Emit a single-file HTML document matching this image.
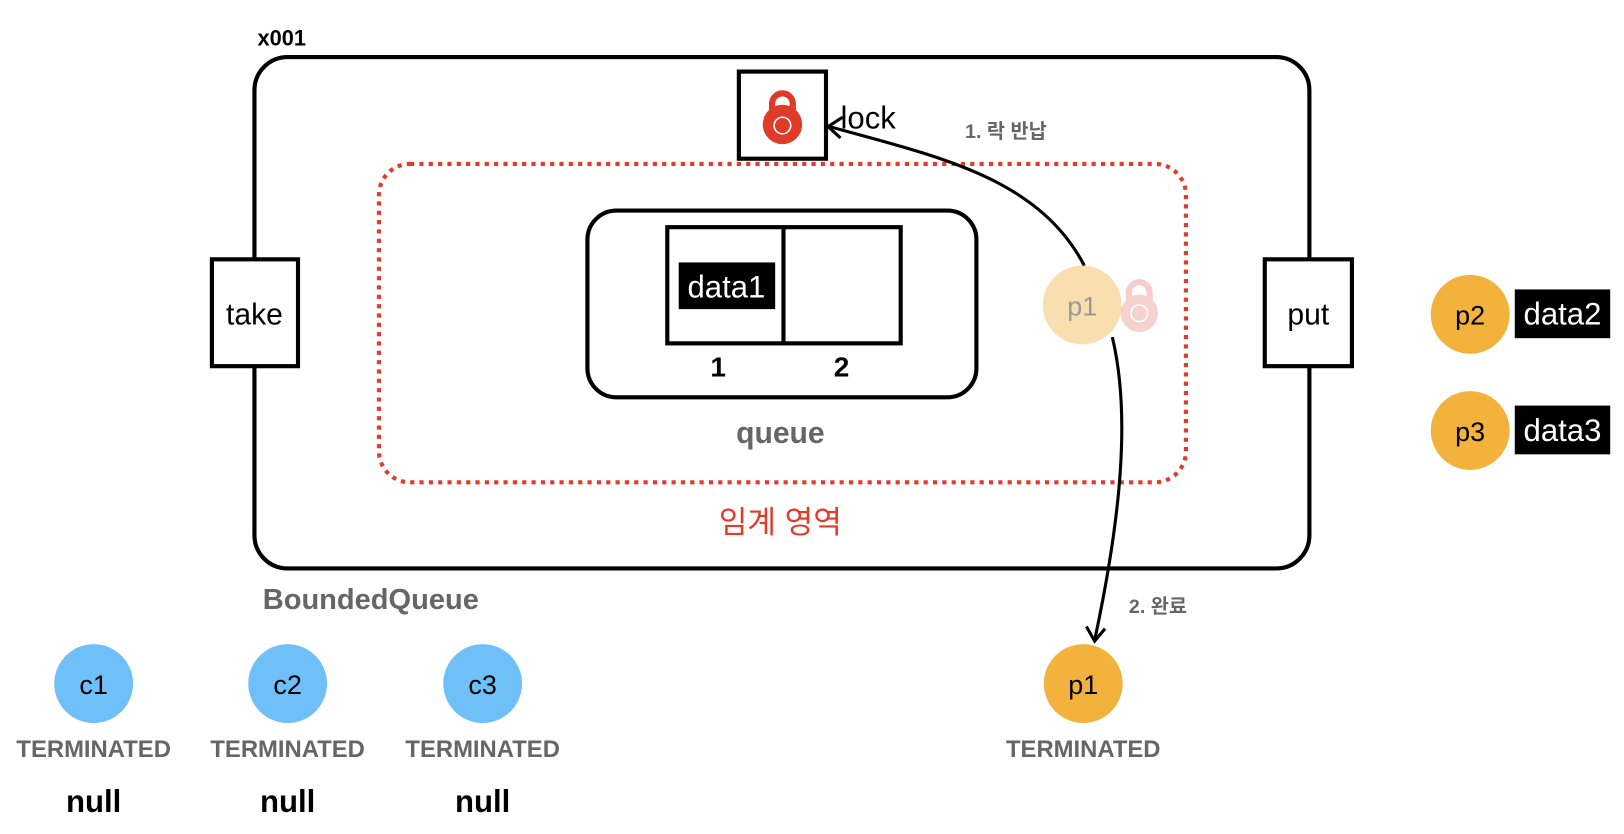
<!DOCTYPE html>
<html><head><meta charset="utf-8"><style>html,body{margin:0;padding:0;background:#fff}svg{display:block}</style></head>
<body>
<svg width="1624" height="834" viewBox="0 0 1565 804" xmlns="http://www.w3.org/2000/svg" font-family="'Liberation Sans','Noto Sans CJK KR',sans-serif">
<text x="248" y="44" font-size="21" font-weight="bold">x001</text>
<rect x="245" y="55" width="1017" height="493" rx="32" fill="none" stroke="#000" stroke-width="4"/>
<rect x="365" y="158" width="778" height="307" rx="30" fill="none" stroke="#e53a2a" stroke-width="4" stroke-dasharray="4 5"/>
<rect x="566" y="203" width="375" height="180" rx="28" fill="none" stroke="#000" stroke-width="4"/>
<rect x="643" y="219" width="225" height="112" fill="none" stroke="#000" stroke-width="4"/>
<line x1="755" y1="219" x2="755" y2="331" stroke="#000" stroke-width="4"/>
<rect x="654" y="253" width="93" height="45" fill="#000"/>
<text x="700" y="287" font-size="30" fill="#fff" text-anchor="middle">data1</text>
<text x="692" y="363" font-size="27" font-weight="bold" text-anchor="middle">1</text>
<text x="811" y="363" font-size="27" font-weight="bold" text-anchor="middle">2</text>
<text x="752" y="427" font-size="29" font-weight="bold" fill="#666" text-anchor="middle">queue</text>
<text x="752" y="514" font-size="30" fill="#e53a2a" text-anchor="middle">임계 영역</text>
<rect x="204" y="250" width="83" height="103" fill="#fff" stroke="#000" stroke-width="4"/>
<text x="245" y="313" font-size="29" text-anchor="middle">take</text>
<rect x="1219" y="250" width="84" height="103" fill="#fff" stroke="#000" stroke-width="4"/>
<text x="1261" y="313" font-size="29" text-anchor="middle">put</text>
<text x="253" y="587" font-size="28" font-weight="bold" fill="#666">BoundedQueue</text>
<rect x="712" y="69" width="84" height="84" fill="#fff" stroke="#000" stroke-width="4"/>
<path d="M744 109 v-9 a10 10 0 0 1 20 0 v9" fill="none" stroke="#e03a28" stroke-width="6"/>
<circle cx="754" cy="120" r="19" fill="#e03a28"/>
<circle cx="754" cy="121" r="8" fill="none" stroke="#fff" stroke-width="1.5"/>
<text x="810" y="124" font-size="30">lock</text>
<text x="930" y="133" font-size="19" font-weight="bold" fill="#666">1. 락 반납</text>
<circle cx="1043" cy="294" r="38" fill="#f9deb0"/>
<text x="1043" y="304" font-size="26" fill="#999" text-anchor="middle">p1</text>
<path d="M1088 290 v-8 a10 10 0 0 1 20 0 v8" fill="none" stroke="#f5cfcb" stroke-width="6"/>
<circle cx="1098" cy="302" r="18" fill="#f5d2ce"/>
<circle cx="1098" cy="302" r="8" fill="none" stroke="#fff" stroke-width="1.5"/>
<path d="M1045 256 C1000 170 900 150 799 122" fill="none" stroke="#000" stroke-width="3"/>
<path d="M812 113 L798 122 L810 133" fill="none" stroke="#000" stroke-width="3"/>
<path d="M1072 325 C1090 400 1080 500 1055 617" fill="none" stroke="#000" stroke-width="3"/>
<path d="M1047 604 L1055 618 L1065 606" fill="none" stroke="#000" stroke-width="3"/>
<text x="1088" y="591" font-size="19" font-weight="bold" fill="#666">2. 완료</text>
<circle cx="1417" cy="303" r="38" fill="#f2b23c"/>
<text x="1417" y="313" font-size="26" text-anchor="middle">p2</text>
<rect x="1460" y="279" width="92" height="47" fill="#000"/>
<text x="1506" y="313" font-size="30" fill="#fff" text-anchor="middle">data2</text>
<circle cx="1417" cy="415" r="38" fill="#f2b23c"/>
<text x="1417" y="425" font-size="26" text-anchor="middle">p3</text>
<rect x="1460" y="391" width="92" height="47" fill="#000"/>
<text x="1506" y="425" font-size="30" fill="#fff" text-anchor="middle">data3</text>
<circle cx="1044" cy="659" r="38" fill="#f2b23c"/>
<text x="1044" y="669" font-size="26" text-anchor="middle">p1</text>
<text x="1044" y="730" font-size="23" font-weight="bold" fill="#666" text-anchor="middle">TERMINATED</text>
<g font-weight="bold" text-anchor="middle">
<circle cx="90" cy="659" r="38" fill="#6fbff8"/><text x="90" y="669" font-size="26" font-weight="normal">c1</text>
<text x="90" y="730" font-size="23" fill="#666">TERMINATED</text><text x="90" y="783" font-size="30">null</text>
<circle cx="277" cy="659" r="38" fill="#6fbff8"/><text x="277" y="669" font-size="26" font-weight="normal">c2</text>
<text x="277" y="730" font-size="23" fill="#666">TERMINATED</text><text x="277" y="783" font-size="30">null</text>
<circle cx="465" cy="659" r="38" fill="#6fbff8"/><text x="465" y="669" font-size="26" font-weight="normal">c3</text>
<text x="465" y="730" font-size="23" fill="#666">TERMINATED</text><text x="465" y="783" font-size="30">null</text>
</g>
</svg>
</body></html>
